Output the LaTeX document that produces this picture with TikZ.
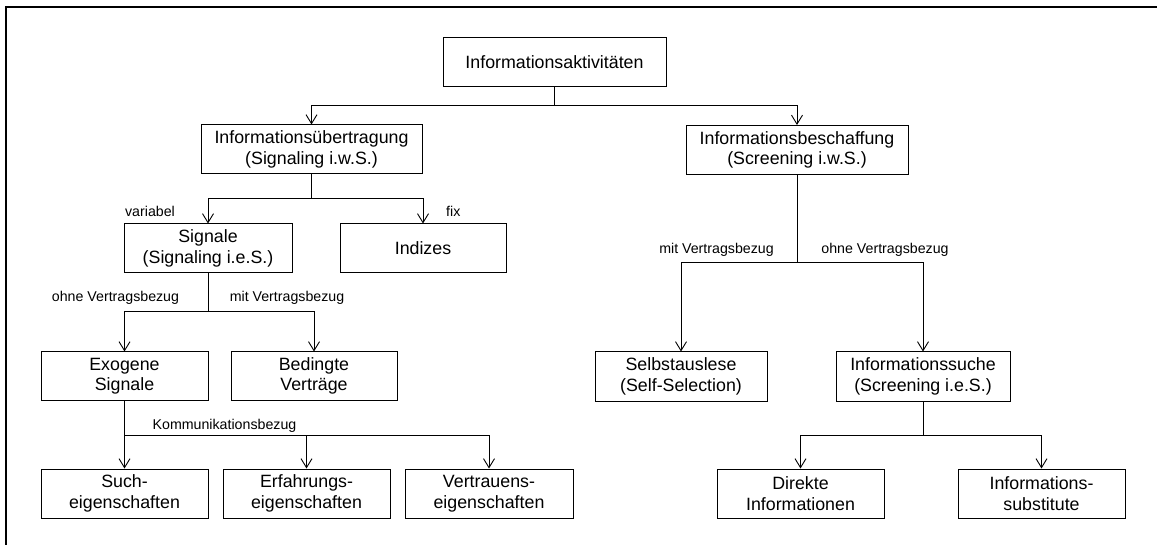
\documentclass[tikz,border=0pt]{standalone}
\usepackage{fontspec}
\setmainfont{Liberation Sans}
\usetikzlibrary{arrows.meta}
\begin{document}
\begin{tikzpicture}[x=1pt,y=-1pt,
  box/.style={draw, line width=1pt, rectangle, inner sep=0pt, align=center,
    font=\fontsize{17.8}{20.5}\selectfont},
  lbl/.style={inner sep=0pt, font=\fontsize{14.2}{16}\selectfont},
  link/.style={line width=1pt},
  arr/.style={line width=1pt, -{Straight Barb[length=9pt,width=11pt,line width=0.9pt]}}]
\useasboundingbox (0,0) rectangle (1157,545);

% frame
\draw[line width=2.4pt] (6,545) -- (6,7) -- (1157,7);

% boxes
\node[box, minimum width=223pt, minimum height=49pt] (top) at (554.5,62) {Informationsaktivitäten};
\node[box, minimum width=221pt, minimum height=49pt] (ueb) at (311.5,149.5) {Informationsübertragung\\(Signaling i.w.S.)};
\node[box, minimum width=222pt, minimum height=49pt] (bes) at (797,150) {Informationsbeschaffung\\(Screening i.w.S.)};
\node[box, minimum width=168pt, minimum height=49pt] (sig) at (208,248.5) {Signale\\(Signaling i.e.S.)};
\node[box, minimum width=166pt, minimum height=49pt] (ind) at (423,248.5) {Indizes};
\node[box, minimum width=167pt, minimum height=48pt] (exo) at (124.5,376) {Exogene\\Signale};
\node[box, minimum width=166pt, minimum height=48pt] (bed) at (314,376) {Bedingte\\Verträge};
\node[box, minimum width=167pt, minimum height=49pt] (such) at (124.5,493.5) {Such-\\eigenschaften};
\node[box, minimum width=167pt, minimum height=49pt] (erf) at (306.5,493.5) {Erfahrungs-\\eigenschaften};
\node[box, minimum width=168pt, minimum height=49pt] (ver) at (489,493.5) {Vertrauens-\\eigenschaften};
\node[box, minimum width=172pt, minimum height=49pt] (selbst) at (681,376.5) {Selbstauslese\\(Self-Selection)};
\node[box, minimum width=174pt, minimum height=49pt] (suche) at (923,376.5) {Informationssuche\\(Screening i.e.S.)};
\node[box, minimum width=167pt, minimum height=49pt] (dir) at (800.5,493.5) {Direkte\\Informationen};
\node[box, minimum width=167pt, minimum height=49pt] (subst) at (1041.5,493.5) {Informations-\\substitute};

% branching points
\coordinate (j1) at (554.5,106);
\coordinate (j2) at (311.5,199);
\coordinate (j3) at (208,312);
\coordinate (j4) at (124.5,435);
\coordinate (j5) at (797,263);
\coordinate (j6) at (923,435);

% connectors
\draw[link] (top.south) -- (j1);
\draw[arr] (j1) -| (ueb.north);
\draw[arr] (j1) -| (bes.north);

\draw[link] (ueb.south) -- (j2);
\draw[arr] (j2) -| (sig.north);
\draw[arr] (j2) -| (ind.north);

\draw[link] (sig.south) -- (j3);
\draw[arr] (j3) -| (exo.north);
\draw[arr] (j3) -| (bed.north);

\draw[arr] (exo.south) -- (such.north);
\draw[arr] (j4) -| (erf.north);
\draw[arr] (j4) -| (ver.north);

\draw[link] (bes.south) -- (j5);
\draw[arr] (j5) -| (selbst.north);
\draw[arr] (j5) -| (suche.north);

\draw[link] (suche.south) -- (j6);
\draw[arr] (j6) -| (dir.north);
\draw[arr] (j6) -| (subst.north);

% branch labels
\node[lbl] (l1) at (150,211) {variabel};
\node[lbl, anchor=west] (l2) at (446,211) {fix};
\node[lbl] (l3) at (115.5,298) {ohne Vertragsbezug};
\node[lbl] (l4) at (287,298) {mit Vertragsbezug};
\node[lbl] (l5) at (224.5,426) {Kommunikationsbezug};
\node[lbl] (l6) at (716.5,250) {mit Vertragsbezug};
\node[lbl] (l7) at (885,250) {ohne Vertragsbezug};
\end{tikzpicture}
\end{document}
